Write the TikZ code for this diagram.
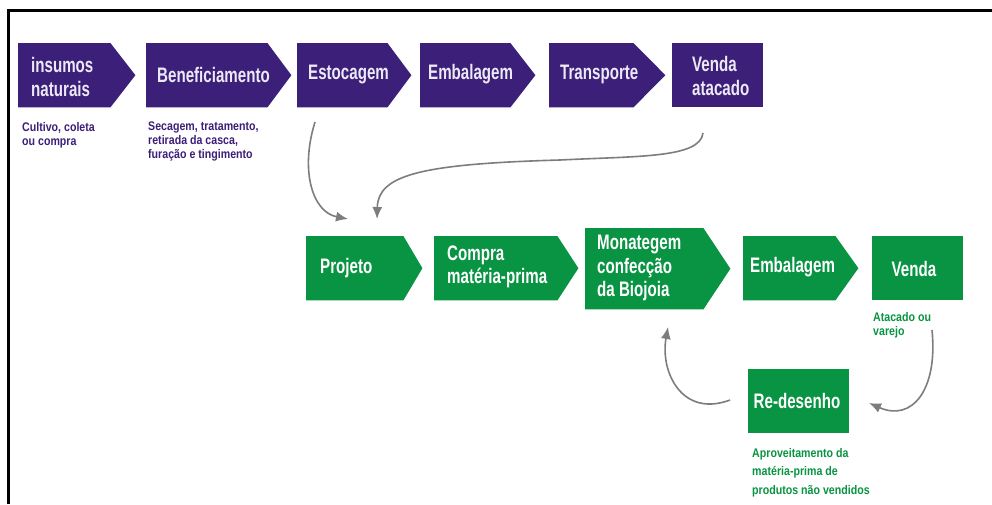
\documentclass[tikz,border=0pt]{standalone}
\usepackage{fontspec}
\newfontfamily\cfbig{Liberation Sans}[FakeStretch=0.72]
\newfontfamily\cfsmall{Liberation Sans}[FakeStretch=0.85]
\usetikzlibrary{arrows.meta}
\definecolor{purp}{RGB}{60,31,120}
\definecolor{grn}{RGB}{8,148,66}
\definecolor{lav}{RGB}{236,232,246}
\definecolor{arrg}{RGB}{125,125,125}
\tikzset{
  boxa/.style={inner sep=0pt, anchor=north west, minimum height=64pt},
  ptext/.style={text=lav, inner sep=0pt, align=left, font=\cfbig\bfseries\fontsize{21}{24.5}\selectfont},
  gtext/.style={text=white, inner sep=0pt, align=left, font=\cfbig\bfseries\fontsize{21}{23.5}\selectfont},
  psmall/.style={text=purp, inner sep=0pt, anchor=north west, align=left, font=\cfsmall\bfseries\fontsize{12.5}{13.8}\selectfont},
  gsmall/.style={text=grn, inner sep=0pt, anchor=north west, align=left, font=\cfsmall\bfseries\fontsize{12.5}{14}\selectfont},
  conn/.style={draw=arrg, line width=1.6pt, -{Latex[length=12pt,width=10pt]}}
}
% #1 node name, #2 colour, #3 tip length
\newcommand\pentfill[3]{\fill[#2] (#1.north west) -- (#1.north east) -- ([xshift=#3]#1.east) -- (#1.south east) -- (#1.south west) -- cycle;}
\newcommand\rectfill[2]{\fill[#2] (#1.north west) rectangle (#1.south east);}
\begin{document}
\begin{tikzpicture}[x=1pt,y=-1pt]
\useasboundingbox (0,0) rectangle (992,504);
\fill[white] (0,0) rectangle (992,504);
% frame
\draw[line width=3pt] (8.5,504) -- (8.5,10) -- (992,10);

% purple row
\node[boxa, minimum width=92pt] (p1) at (18,43) {};
\node[boxa, minimum width=121pt] (p2) at (146,43) {};
\node[boxa, minimum width=90pt] (p3) at (297,43) {};
\node[boxa, minimum width=90pt] (p4) at (420,43) {};
\node[boxa, minimum width=84pt] (p5) at (549,43) {};
\node[boxa, minimum width=91pt] (p6) at (672,43) {};
\pentfill{p1}{purp}{25pt}
\pentfill{p2}{purp}{24pt}
\pentfill{p3}{purp}{24pt}
\pentfill{p4}{purp}{25pt}
\pentfill{p5}{purp}{32pt}
\rectfill{p6}{purp}

\node[ptext, anchor=west] (t1) at (31,77) {insumos\\naturais};
\node[ptext, anchor=west] (t2) at (157,75) {Beneficiamento};
\node[ptext, anchor=west] (t3) at (308,74) {Estocagem};
\node[ptext, anchor=west] (t4) at (428,74) {Embalagem};
\node[ptext, anchor=west] (t5) at (560,74) {Transporte};
\node[ptext, anchor=west] (t6) at (692,76) {Venda\\atacado};

\node[psmall] (s1) at (22,122) {Cultivo, coleta\\ou compra};
\node[psmall] (s2) at (148,122) {Secagem, tratamento,\\retirada da casca,\\furação e tingimento};

% green row
\node[boxa, minimum width=97pt] (g1) at (306,236) {};
\node[boxa, minimum width=123pt] (g2) at (434,236) {};
\node[boxa, minimum width=118pt, minimum height=81pt] (g3) at (585,228) {};
\node[boxa, minimum width=92pt] (g4) at (743,236) {};
\node[boxa, minimum width=91pt] (g5) at (872,236) {};
\node[boxa, minimum width=101pt] (g6) at (748,369) {};
\pentfill{g1}{grn}{19pt}
\pentfill{g2}{grn}{21pt}
\pentfill{g3}{grn}{27pt}
\pentfill{g4}{grn}{23pt}
\rectfill{g5}{grn}
\rectfill{g6}{grn}

\node[gtext, anchor=west] (u1) at (320,268) {Projeto};
\node[gtext, anchor=west] (u2) at (447,267) {Compra\\matéria-prima};
\node[gtext, anchor=west] (u3) at (597,268) {Monategem\\confecção\\da Biojoia};
\node[gtext, anchor=west] (u4) at (750,267) {Embalagem};
\node[gtext] (u5) at (914,269) {Venda};
\node[gtext] (u6) at (797,401) {Re-desenho};

\node[gsmall] (s3) at (873,312) {Atacado ou\\varejo};
\node[gsmall, font=\cfsmall\bfseries\fontsize{12.5}{18.5}\selectfont] (s4) at (752,448) {Aproveitamento da\\matéria-prima de\\produtos não vendidos};

% connectors
\coordinate (a1s) at (315,122);
\coordinate (a1e) at (348,219);
\coordinate (a2s) at (703,133);
\coordinate (a2e) at (377,219);
\coordinate (a3s) at (932,330);
\coordinate (a3e) at (869,403);
\coordinate (a4s) at (730,400);
\coordinate (a4e) at (668,327);
\draw[conn] (a1s) .. controls (300,170) and (312,212) .. (a1e);
\draw[conn] (a2s) .. controls (700,158) and (640,156) .. (560,160) .. controls (420,164) and (378,175) .. (a2e);
\draw[conn] (a3s) .. controls (938,390) and (912,422) .. (a3e);
\draw[conn] (a4s) .. controls (682,418) and (660,372) .. (a4e);
\end{tikzpicture}
\end{document}
